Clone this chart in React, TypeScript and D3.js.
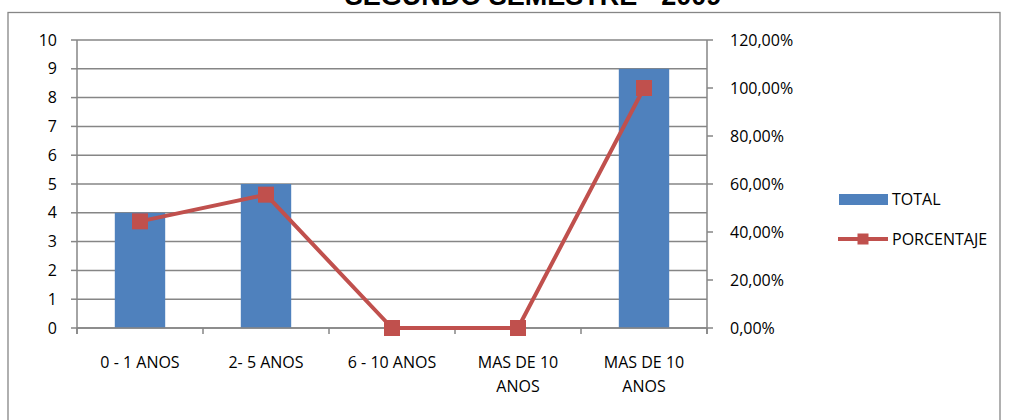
import React from "react";
import * as d3 from "d3";

const categories = ["0 - 1 ANOS", "2- 5 ANOS", "6 - 10 ANOS", "MAS DE 10 ANOS", "MAS DE 10 ANOS"];
const categoryLines = [["0 - 1 ANOS"], ["2- 5 ANOS"], ["6 - 10 ANOS"], ["MAS DE 10", "ANOS"], ["MAS DE 10", "ANOS"]];
const totalValues = [4, 5, 0, 0, 9];
const percentValues = [0.4444, 0.5556, 0, 0, 1.0];
const leftTicks = [0, 1, 2, 3, 4, 5, 6, 7, 8, 9, 10];
const rightTicks = [0, 0.2, 0.4, 0.6, 0.8, 1.0, 1.2];
const title = "SEGUNDO SEMESTRE - 2009";

const W = 1009, H = 420;
const L = 77, R = 707, T = 40, B = 328;
const FONT = "'Open Sans', 'Noto Sans', sans-serif";
const FS = 16;
const BAR = "#4F81BD", LINE = "#C0504D", AX = "#868686";

export default function App() {
  const idx = categories.map((_, i) => i);
  const x = d3.scaleBand<number>().domain(idx).range([L, R]).paddingInner(0).paddingOuter(0);
  const yL = d3.scaleLinear().domain([0, 10]).range([B, T]);
  const yR = d3.scaleLinear().domain([0, 1.2]).range([B, T]);
  const bw = x.bandwidth() * 0.4;
  const cx = (i: number) => (x(i) as number) + x.bandwidth() / 2;
  const line = d3.line<number>().x((_, i) => cx(i)).y((d) => yR(d));
  const fmt = (v: number) => (v * 100).toFixed(2).replace(".", ",") + "%";
  const ms = 16;
  const boundaries = d3.range(categories.length + 1).map((i) => L + i * x.bandwidth());

  return (
    <svg width={W} height={H} style={{ display: "block", position: "absolute", left: 0, top: 0 }}>
      <rect x={0} y={0} width={W} height={H} fill="#fff" />
      <rect x={8} y={12.5} width={992} height={420} fill="#fff" stroke={AX} strokeWidth={1.3} />
      <text x={533} y={5} textAnchor="middle" fontFamily="'Liberation Sans', Arial, sans-serif" fontWeight="bold" fontSize={27}>{title}</text>
      {leftTicks.map((t) => (
        <g key={"g" + t}>
          <line x1={L} x2={R} y1={yL(t)} y2={yL(t)} stroke={AX} strokeWidth={1.5} />
          <line x1={L - 6} x2={L} y1={yL(t)} y2={yL(t)} stroke={AX} strokeWidth={1.5} />
          <text x={57} y={yL(t)} dy="0.35em" textAnchor="end" fontFamily={FONT} fontSize={FS}>{t}</text>
        </g>
      ))}
      {rightTicks.map((t) => (
        <g key={"r" + t}>
          <line x1={R} x2={R + 6} y1={yR(t)} y2={yR(t)} stroke={AX} strokeWidth={1.5} />
          <text x={730} y={yR(t)} dy="0.35em" textAnchor="start" fontFamily={FONT} fontSize={FS}>{fmt(t)}</text>
        </g>
      ))}
      {totalValues.map((v, i) => (
        <rect key={"b" + i} x={cx(i) - bw / 2} y={yL(v)} width={bw} height={B - yL(v)} fill={BAR} />
      ))}
      <line x1={L} x2={L} y1={T} y2={B + 6} stroke={AX} strokeWidth={1.5} />
      <line x1={R} x2={R} y1={T} y2={B + 6} stroke={AX} strokeWidth={1.5} />
      <line x1={L} x2={R} y1={B} y2={B} stroke={AX} strokeWidth={1.5} />
      {boundaries.map((b, i) => (
        <line key={"t" + i} x1={b} x2={b} y1={B} y2={B + 6} stroke={AX} strokeWidth={1.5} />
      ))}
      <path d={line(percentValues) || ""} fill="none" stroke={LINE} strokeWidth={4} strokeLinejoin="round" />
      {percentValues.map((v, i) => (
        <rect key={"m" + i} x={cx(i) - ms / 2} y={yR(v) - ms / 2} width={ms} height={ms} fill={LINE} />
      ))}
      {categoryLines.map((ls, i) => (
        <text key={"c" + i} x={cx(i)} y={368} textAnchor="middle" fontFamily={FONT} fontSize={FS}>
          {ls.map((s, j) => (
            <tspan key={j} x={cx(i)} dy={j === 0 ? 0 : 24}>{s}</tspan>
          ))}
        </text>
      ))}
      <rect x={839} y={194} width={49} height={11} fill={BAR} />
      <text x={892} y={199.5} dy="0.35em" fontFamily={FONT} fontSize={FS}>TOTAL</text>
      <line x1={838} x2={888} y1={239} y2={239} stroke={LINE} strokeWidth={4} />
      <rect x={863 - 5.5} y={239 - 5.5} width={11} height={11} fill={LINE} />
      <text x={892} y={239.5} dy="0.35em" fontFamily={FONT} fontSize={FS}>PORCENTAJE</text>
    </svg>
  );
}
